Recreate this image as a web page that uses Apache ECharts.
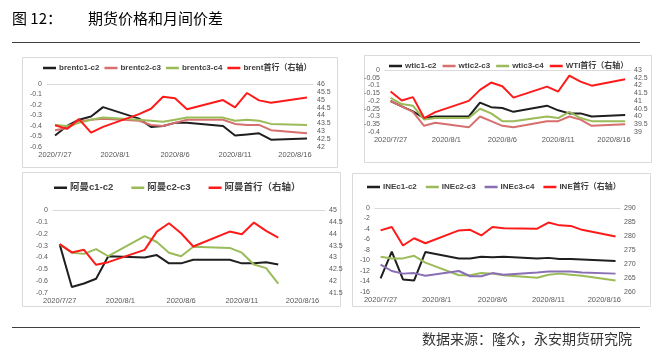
<!DOCTYPE html>
<html><head><meta charset="utf-8">
<script src="https://cdn.jsdelivr.net/npm/echarts/dist/echarts.min.js"></script>
<style>html,body{margin:0;padding:0;background:#fff}#c{width:659px;height:361px}</style>
</head><body><div id="c"></div>
<script>
// ---------- data ----------
const tickDates = ['2020/7/27','2020/8/1','2020/8/6','2020/8/11','2020/8/16'];
const tradeDates = ['2020/7/27','2020/7/28','2020/7/29','2020/7/30','2020/7/31','2020/8/3','2020/8/4','2020/8/5','2020/8/6','2020/8/7','2020/8/10','2020/8/11','2020/8/12','2020/8/13','2020/8/14','2020/8/17'];
const omanDates = tradeDates.slice(0, 15);

const brentC1C2 = [-0.49,-0.40,-0.34,-0.31,-0.22,-0.33,-0.41,-0.40,-0.37,-0.37,-0.40,-0.49,-0.48,-0.47,-0.53,-0.52];
const brentC2C3 = [-0.44,-0.42,-0.36,-0.34,-0.33,-0.35,-0.39,-0.40,-0.37,-0.34,-0.34,-0.38,-0.39,-0.39,-0.44,-0.47];
const brentC3C4 = [-0.39,-0.40,-0.37,-0.34,-0.32,-0.34,-0.35,-0.36,-0.34,-0.32,-0.32,-0.35,-0.34,-0.35,-0.38,-0.39];
const brentFront = [43.38,43.15,43.77,42.91,43.28,44.09,44.43,45.19,45.09,44.40,44.98,44.51,45.43,44.96,44.81,45.15];

const wtiC1C2 = [-0.20,-0.235,-0.267,-0.31,-0.30,-0.30,-0.21,-0.24,-0.245,-0.27,-0.23,-0.26,-0.28,-0.28,-0.30,-0.29];
const wtiC2C3 = [-0.20,-0.235,-0.27,-0.36,-0.34,-0.37,-0.30,-0.33,-0.36,-0.37,-0.33,-0.33,-0.30,-0.32,-0.36,-0.35];
const wtiC3C4 = [-0.18,-0.22,-0.23,-0.32,-0.31,-0.31,-0.25,-0.28,-0.33,-0.33,-0.30,-0.31,-0.27,-0.31,-0.33,-0.33];
const wtiFront = [41.61,41.03,41.25,39.90,40.28,41.01,41.72,42.19,41.95,41.22,41.93,41.61,42.64,42.25,41.99,42.40];

const omanC1C2 = [-0.29,-0.65,-0.62,-0.58,-0.39,-0.40,-0.38,-0.45,-0.45,-0.42,-0.42,-0.45,-0.45,-0.44,-0.46];
const omanC2C3 = [-0.29,-0.36,-0.37,-0.33,-0.39,-0.22,-0.27,-0.36,-0.39,-0.31,-0.32,-0.36,-0.46,-0.49,-0.62];
const omanFront = [43.56,43.21,43.32,42.69,42.80,43.32,44.09,44.44,44.02,43.46,44.09,43.98,44.47,44.12,43.84];

const ineC1C2 = [-13.4,-8.3,-13.6,-13.8,-8.4,-9.6,-9.6,-9.3,-9.4,-9.3,-9.6,-9.5,-9.7,-9.7,-9.8,-10.1];
const ineC2C3 = [-9.3,-9.6,-9.6,-9.1,-10.4,-12.8,-12.8,-12.4,-12.5,-12.8,-13.3,-12.7,-12.5,-12.7,-12.9,-13.8];
const ineC3C4 = [-10.8,-12.0,-12.5,-12.4,-12.9,-12.0,-13.0,-13.0,-12.4,-12.7,-12.3,-12.1,-12.1,-12.1,-12.3,-12.5];
const ineFront = [282.0,283.2,276.6,279.2,277.4,282.0,282.2,280.2,283.2,282.8,282.6,284.8,283.8,283.6,282.2,279.8];

// ---------- helpers ----------
const BASE = Date.UTC(2020, 6, 27);
function dayIdx(s){ const p = s.split('/').map(Number); return (Date.UTC(p[0], p[1]-1, p[2]) - BASE) / 86400000; }
function dayLabel(v){ const d = new Date(BASE + Math.round(v) * 86400000); return d.getUTCFullYear() + '/' + (d.getUTCMonth()+1) + '/' + d.getUTCDate(); }
function pairs(dates, vals){ return dates.map((d, i) => [dayIdx(d), vals[i]]); }

const C_BLACK = '#1f1f1f', C_PINK = '#d6706e', C_GREEN = '#9bbb59', C_RED = '#ff1a1a', C_PURPLE = '#8a6fb5';
const LBL = '#595959';
const FONT = '"Liberation Sans", Arial, "Noto Sans CJK SC", sans-serif';

const panels = [
  { grid:{left:47, top:84, width:266, height:63}, xmin:-0.67, xmax:21.5,
    left:{min:-0.6, max:0, interval:0.1}, right:{min:42, max:46, interval:0.5},
    series:[['brentc1-c2', tradeDates, brentC1C2, C_BLACK, 0], ['brentc2-c3', tradeDates, brentC2C3, C_PINK, 0], ['brentc3-c4', tradeDates, brentC3C4, C_GREEN, 0], ['brent首行（右轴）', tradeDates, brentFront, C_RED, 1]],
    legend:{left:43, top:64, itemGap:5, fontSize:8} },
  { grid:{left:385, top:70, width:245, height:62}, xmin:-0.5, xmax:21.43,
    left:{min:-0.4, max:0, interval:0.05}, right:{min:39, max:43, interval:0.5},
    series:[['wtic1-c2', tradeDates, wtiC1C2, C_BLACK, 0], ['wtic2-c3', tradeDates, wtiC2C3, C_PINK, 0], ['wtic3-c4', tradeDates, wtiC3C4, C_GREEN, 0], ['WTI首行（右轴）', tradeDates, wtiFront, C_RED, 1]],
    legend:{left:389, top:62, itemGap:6, fontSize:8} },
  { grid:{left:53, top:210, width:272, height:83}, xmin:-0.55, xmax:21.85,
    left:{min:-0.7, max:0, interval:0.1}, right:{min:41.5, max:45, interval:0.5},
    series:[['阿曼c1-c2', omanDates, omanC1C2, C_BLACK, 0], ['阿曼c2-c3', omanDates, omanC2C3, C_GREEN, 0], ['阿曼首行（右轴）', omanDates, omanFront, C_RED, 1]],
    legend:{left:54, top:183, itemGap:18, fontSize:9.5} },
  { grid:{left:375, top:208, width:245, height:84}, xmin:-0.5, xmax:21.4,
    left:{min:-16, max:0, interval:2}, right:{min:260, max:290, interval:5},
    series:[['INEc1-c2', tradeDates, ineC1C2, C_BLACK, 0], ['INEc2-c3', tradeDates, ineC2C3, C_GREEN, 0], ['INEc3-c4', tradeDates, ineC3C4, C_PURPLE, 0], ['INE首行（右轴）', tradeDates, ineFront, C_RED, 1]],
    legend:{left:367, top:183, itemGap:9, fontSize:8} }
];

const option = { animation:false, textStyle:{fontFamily:FONT}, grid:[], xAxis:[], yAxis:[], series:[], legend:[], graphic:[] };
const tickIdx = tickDates.map(dayIdx);

panels.forEach((p, k) => {
  option.grid.push(Object.assign({containLabel:false}, p.grid));
  const xb = option.xAxis.length;
  option.xAxis.push({ type:'value', gridIndex:k, min:p.xmin, max:p.xmax, position:'bottom',
    axisLine:{show:false}, axisTick:{show:false}, splitLine:{show:false},
    axisLabel:{customValues:tickIdx, formatter:dayLabel, fontSize:7.5, color:LBL, margin:4, fontFamily:FONT} });
  option.xAxis.push({ type:'value', gridIndex:k, min:p.xmin, max:p.xmax, position:'top',
    axisLine:{show:true, onZero:false, lineStyle:{color:'#d9d9d9', width:1}}, axisTick:{show:false}, axisLabel:{show:false}, splitLine:{show:false} });
  const yb = option.yAxis.length;
  option.yAxis.push({ type:'value', gridIndex:k, position:'left', min:p.left.min, max:p.left.max, interval:p.left.interval,
    axisLine:{show:false}, axisTick:{show:false}, splitLine:{show:false},
    axisLabel:{fontSize:7, color:LBL, margin:5, fontFamily:FONT} });
  option.yAxis.push({ type:'value', gridIndex:k, position:'right', min:p.right.min, max:p.right.max, interval:p.right.interval,
    axisLine:{show:false}, axisTick:{show:false}, splitLine:{show:false},
    axisLabel:{fontSize:7, color:LBL, margin:4, fontFamily:FONT} });
  const names = [];
  p.series.forEach(s => {
    names.push(s[0]);
    option.series.push({ name:s[0], type:'line', xAxisIndex:xb, yAxisIndex:yb + s[4], data:pairs(s[1], s[2]),
      symbol:'none', color:s[3], lineStyle:{color:s[3], width:2}, z: s[4] ? 3 : 2 });
  });
  option.legend.push({ data:names, left:p.legend.left, top:p.legend.top, orient:'horizontal', icon:'rect',
    itemWidth:13, itemHeight:2.5, itemGap:p.legend.itemGap, padding:0,
    textStyle:{fontSize:p.legend.fontSize, fontWeight:'bold', color:'#404040', fontFamily:FONT, padding:[0,0,0,-2]} });
});

// frames, title, footer
const frames = [[22,57,315,110],[364,55,287,107],[22,172,318,134],[352,173,298,133]];
frames.forEach(f => option.graphic.push({ type:'rect', shape:{x:f[0]+0.5, y:f[1]+0.5, width:f[2], height:f[3]}, style:{fill:'none', stroke:'#d9d9d9', lineWidth:1}, z:-1 }));
option.graphic.push({ type:'text', left:12, top:11, style:{text:'图 12：', font:'15px "Noto Sans CJK SC"', fill:'#000'} });
option.graphic.push({ type:'text', left:88, top:11, style:{text:'期货价格和月间价差', font:'15px "Noto Sans CJK SC"', fill:'#000'} });
option.graphic.push({ type:'line', shape:{x1:12, y1:42.5, x2:640, y2:42.5}, style:{stroke:'#404040', lineWidth:1} });
option.graphic.push({ type:'line', shape:{x1:12, y1:327.5, x2:640, y2:327.5}, style:{stroke:'#404040', lineWidth:1} });
option.graphic.push({ type:'text', right:27, top:332, style:{text:'数据来源：隆众，永安期货研究院', font:'14px "Noto Sans CJK SC"', fill:'#333'} });

const chart = echarts.init(document.getElementById('c'), null, {renderer:'canvas'});
chart.setOption(option);
</script></body></html>
